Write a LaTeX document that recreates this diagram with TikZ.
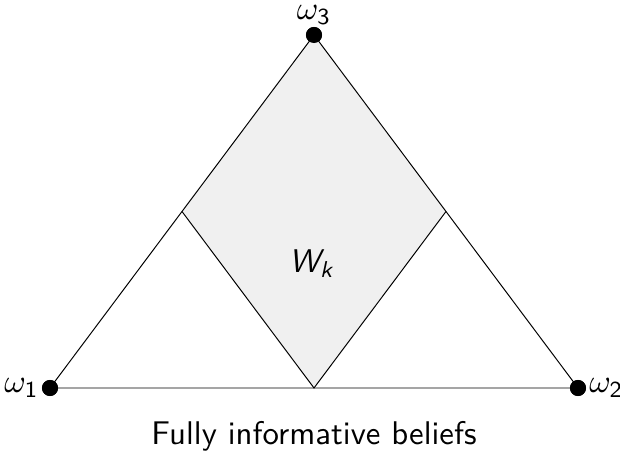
\documentclass[tikz,border=0pt]{standalone}
\usepackage{amsmath}
\usepackage{fontspec}
\begin{document}
\begin{tikzpicture}[x=0.305pt,y=-0.305pt,
  lbl/.style={font=\sffamily, inner sep=0.6pt},
  dot/.style={circle, fill=black, inner sep=0pt, minimum size=4.9pt},
  edge/.style={draw=black, line width=0.3pt}]
\useasboundingbox (0,0) rectangle (620,455);
\node[dot] (w1) at (50,388) {};
\node[dot] (w2) at (578,388) {};
\node[dot] (w3) at (314,35) {};
\coordinate (m13) at (182,211.5);
\coordinate (m23) at (446,211.5);
\coordinate (m12) at (314,388);
\fill[black!6] (w3.center) -- (m13) -- (m12) -- (m23) -- cycle;
\draw[edge] (w1.center) -- (w2.center) -- (w3.center) -- cycle;
\draw[edge] (m13) -- (m12) -- (m23);
\node[dot] at (w1) {};
\node[dot] at (w2) {};
\node[dot] at (w3) {};
\node[lbl, anchor=east] (l1) at (w1.west) {$\omega_{\textsf{1}}$};
\node[lbl, anchor=west] (l2) at (w2.east) {$\omega_{\textsf{2}}$};
\node[lbl, anchor=south, inner sep=0.3pt] (l3) at (w3.north) {$\omega_{\textsf{3}}$};
\node[lbl] (wk) at (312,264) {$\textsf{\textit{W}}_{\!\textsf{\textit{k}}}$};
\node[lbl] (cap) at (314,436) {Fully informative beliefs};
\end{tikzpicture}
\end{document}
